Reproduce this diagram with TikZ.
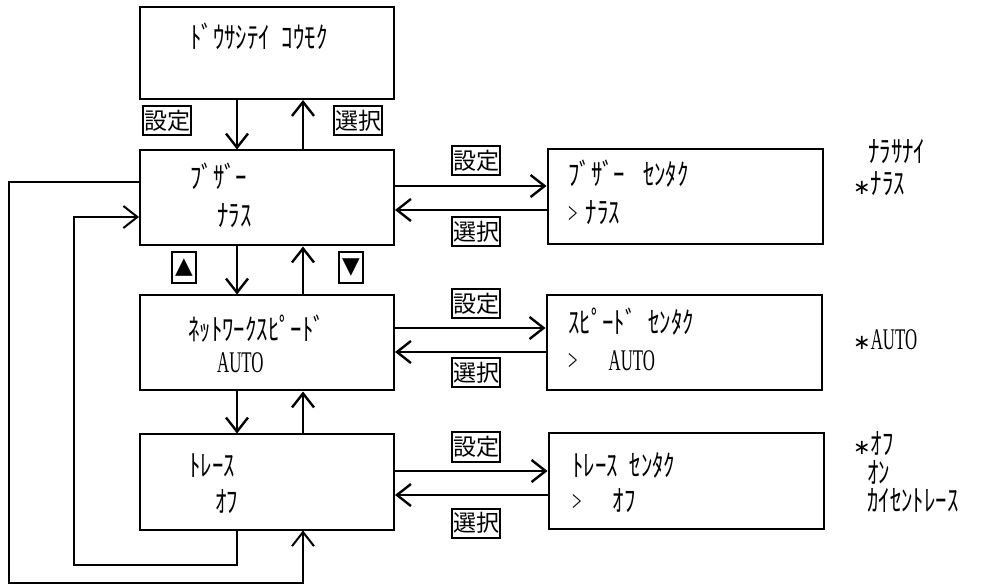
\documentclass[tikz,border=0pt]{standalone}
\usepackage{fontspec}
\setmainfont{Liberation Serif}[FakeStretch=0.56]
\newfontfamily\kanafont{Noto Sans CJK JP}[FakeStretch=0.76]
\newfontfamily\jpfont{Noto Sans CJK JP}
\newfontfamily\symfont{DejaVu Sans}
\newcommand\lat[1]{{\rmfamily\fontsize{30pt}{32pt}\selectfont #1}}
\newcommand\defmark{{\symfont\fontsize{21pt}{24pt}\selectfont ∗}}
\usetikzlibrary{arrows.meta}
\begin{document}
\begin{tikzpicture}[x=1pt,y=-1pt]
  \tikzset{menu box/.style={draw=black, line width=2pt, minimum width=254pt, minimum height=95pt, inner sep=0pt},
    sel box/.style={menu box, minimum width=275pt},
    lcd text/.style={anchor=west, inner sep=0pt, text height=22pt, text depth=0pt, font=\kanafont\fontsize{30pt}{32pt}\selectfont},
    key label/.style={draw=black, line width=2pt, inner sep=0pt, minimum width=48pt, minimum height=29pt, font=\jpfont\fontsize{23pt}{25pt}\selectfont},
    cursor key/.style={key label, minimum width=24pt, minimum height=31pt, font=\symfont\fontsize{23pt}{25pt}\selectfont},
    flow/.style={line width=2.4pt, -{Straight Barb[length=14pt,width=22pt]}},
    loop line/.style={flow, line width=2pt}}
  \useasboundingbox (0,0) rectangle (986,585);
  \node[menu box, minimum height=92pt] (item) at (267,53) {};
  \node[menu box] (buzzer) at (267,198) {};
  \node[menu box] (speed) at (267,343) {};
  \node[menu box] (trace) at (267,482) {};
  \node[sel box] (buzsel) at (685,197) {};
  \node[sel box] (spdsel) at (684,343) {};
  \node[sel box] (trcsel) at (686,481) {};
  \foreach \a/\b in {item/buzzer, buzzer/speed, speed/trace}{
    \draw[flow] ([xshift=-30pt]\a.south) -- ([xshift=-30pt]\b.north);
    \draw[flow] ([xshift=36pt]\b.north) -- ([xshift=36pt]\a.south);
  }
  \foreach \m/\s/\u/\d in {buzzer/buzsel/12/-12, speed/spdsel/15/-9, trace/trcsel/11/-13}{
    \draw[flow] ([yshift=\u pt]\m.east) -- ([yshift=\u pt]\m.east -| \s.west);
    \draw[flow] ([yshift=\d pt]\m.east -| \s.west) -- ([yshift=\d pt]\m.east);
  }
  \coordinate (outer) at (9,583);
  \coordinate (inner) at (74,565);
  \draw[loop line] ([yshift=16pt]buzzer.west) -| (outer) -| ([xshift=36pt]trace.south);
  \draw[loop line] ([xshift=-30pt]trace.south) |- (inner) |- ([yshift=-19pt]buzzer.west);
  \node[key label] (setitem) at (167,121) {設定};
  \node[key label] (selitem) at (358,121) {選択};
  \node[key label] (setbuz) at (476,161) {設定};
  \node[key label] (selbuz) at (476,232) {選択};
  \node[key label] (setspd) at (476,304) {設定};
  \node[key label] (selspd) at (476,373) {選択};
  \node[key label] (settrc) at (476,447) {設定};
  \node[key label] (seltrc) at (476,523) {選択};
  \node[cursor key] (upkey) at (184,268) {▲};
  \node[cursor key] (downkey) at (351,268) {▼};
  \node[lcd text] (itemtxt) at (190,38) {ﾄﾞｳｻｼﾃｲ\hspace{12pt}ｺｳﾓｸ};
  \node[lcd text] (buztxt) at (190,178) {ﾌﾞｻﾞｰ};
  \node[lcd text] (buzval) at (217,216) {ﾅﾗｽ};
  \node[lcd text] (spdtxt) at (188,330) {ﾈｯﾄﾜｰｸｽﾋﾟｰﾄﾞ};
  \node[lcd text] (spdval) at (217,362) {\lat{AUTO}};
  \node[lcd text] (trctxt) at (189,465) {ﾄﾚｰｽ};
  \node[lcd text] (trcval) at (215,501) {ｵﾌ};
  \node[lcd text] (buzseltxt) at (568,175) {ﾌﾞｻﾞｰ\hspace{18pt}ｾﾝﾀｸ};
  \node[lcd text] (buzselval) at (568,213) {\lat{>}\hspace{8pt}ﾅﾗｽ};
  \node[lcd text] (spdseltxt) at (568,323) {ｽﾋﾟｰﾄﾞ\hspace{12pt}ｾﾝﾀｸ};
  \node[lcd text] (spdselval) at (568,360) {\lat{>}\hspace{31pt}\lat{AUTO}};
  \node[lcd text] (trcseltxt) at (572,465) {ﾄﾚｰｽ\hspace{12pt}ｾﾝﾀｸ};
  \node[lcd text] (trcselval) at (572,500) {\lat{>}\hspace{31pt}ｵﾌ};
  \node[lcd text] (buzopt1) at (868,152) {ﾅﾗｻﾅｲ};
  \node[lcd text] (buzopt2) at (853,184) {\defmark ﾅﾗｽ};
  \node[lcd text] (spdopt) at (853,339) {\defmark\lat{AUTO}};
  \node[lcd text] (trcopt1) at (853,443) {\defmark ｵﾌ};
  \node[lcd text] (trcopt2) at (867,472) {ｵﾝ};
  \node[lcd text] (trcopt3) at (867,500) {ｶｲｾﾝﾄﾚｰｽ};
\end{tikzpicture}
\end{document}
